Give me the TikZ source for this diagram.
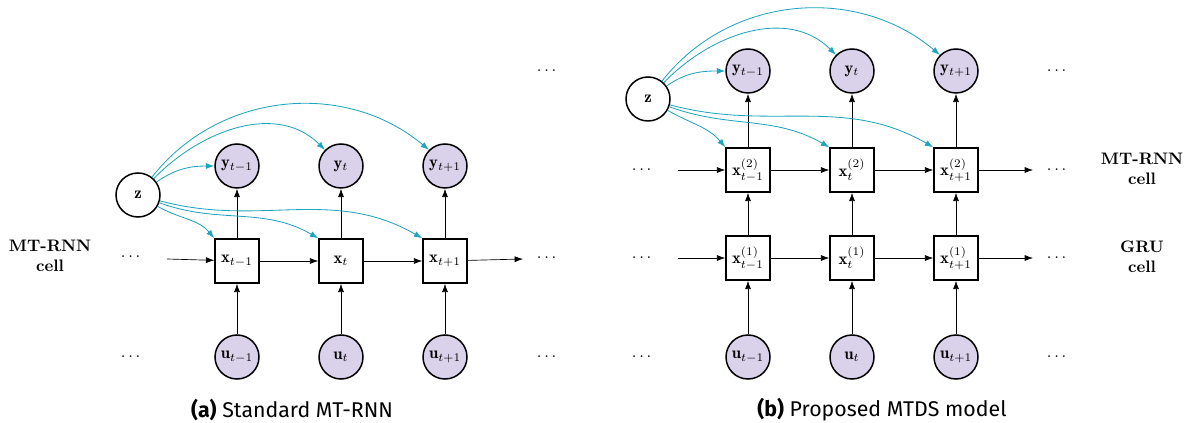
\documentclass[tikz,border=0pt]{standalone}
\usepackage{amsmath}
\usepackage{amssymb}
\usepackage{fontspec}
\newfontfamily\capfont{Fira Sans}
\usetikzlibrary{arrows.meta}
\definecolor{zlink}{RGB}{30,164,190}
\definecolor{obsfill}{RGB}{218,210,234}

\begin{document}
\begin{tikzpicture}[x=0.6pt, y=-0.6pt, >={Latex[length=5pt,width=3.6pt]},
        obs/.style={circle, draw, line width=0.9pt, fill=obsfill, minimum size=26.4pt, inner sep=0pt},
        lat/.style={circle, draw, line width=0.9pt, fill=white, minimum size=26.4pt, inner sep=0pt},
        cellbox/.style={rectangle, draw, line width=0.9pt, fill=white, minimum size=26.4pt, inner sep=0pt},
        zarr/.style={->, zlink, line width=0.5pt},
        dotsnode/.style={anchor=base, inner sep=0pt},
        rowlabel/.style={align=center, font=\bfseries, inner sep=0pt},
        caplabel/.style={font=\capfont\fontsize{12.8}{15}\selectfont, inner sep=0pt}]
        \useasboundingbox (0,0) rectangle (1189,423);
        % (a) standard MT-RNN
        \node[lat] (za) at (138,195) {$\mathbf{z}$};
        \foreach \i/\cx/\s in {1/237/t-1, 2/341/t, 3/445/t+1} {
            \node[obs] (ya\i) at (\cx,166) {$\mathbf{y}_{\s}$};
            \node[cellbox] (xa\i) at (\cx,261) {$\mathbf{x}_{\s}$};
            \node[obs] (ua\i) at (\cx,357) {$\mathbf{u}_{\s}$};
            \draw[->] (ua\i) -- (xa\i);
            \draw[->] (xa\i) -- (ya\i);
        }
        \coordinate (ina) at (167,259); \coordinate (outa) at (523,259);
        \draw[->] (ina) -- (xa1); \draw[->] (xa1) -- (xa2);
        \draw[->] (xa2) -- (xa3); \draw[->] (xa3) -- (outa);
        \draw[zarr] (za) to[out=35,in=180] (ya1.west);
        \draw[zarr] (za) to[out=46,in=135] (ya2.north west);
        \draw[zarr] (za) to[out=52,in=140] (ya3.north west);
        \draw[zarr] (za) to[out=-30,in=130] (xa1.north west);
        \draw[zarr] (za) to[out=-20,in=150] (xa2.north west);
        \draw[zarr] (za) to[out=-15,in=150] (xa3.north west);
        \foreach \n/\p in {da1/{132,258}, da2/{132,358}, da3/{548,72}, da4/{548,259}, da5/{548,358}}
            \node[dotsnode] (\n) at (\p) {$\dots$};
        \node[rowlabel] (rowa) at (50,256) {MT-RNN\\cell};
        \node[caplabel] (capa) at (292,410) {\textbf{(a)} Standard MT-RNN};
        % (b) proposed MTDS model
        \node[lat] (zb) at (648,99) {$\mathbf{z}$};
        \foreach \i/\cx/\s in {1/748/t-1, 2/852/t, 3/956/t+1} {
            \node[obs] (yb\i) at (\cx,71) {$\mathbf{y}_{\s}$};
            \node[cellbox] (hb\i) at (\cx,170) {$\mathbf{x}^{(2)}_{\s}$};
            \node[cellbox] (gb\i) at (\cx,258) {$\mathbf{x}^{(1)}_{\s}$};
            \node[obs] (ub\i) at (\cx,357) {$\mathbf{u}_{\s}$};
            \draw[->] (ub\i) -- (gb\i);
            \draw[->] (gb\i) -- (hb\i);
            \draw[->] (hb\i) -- (yb\i);
        }
        \coordinate (inh) at (678,170); \coordinate (outh) at (1033,170);
        \coordinate (ing) at (678,258); \coordinate (outg) at (1033,258);
        \draw[->] (inh) -- (hb1); \draw[->] (hb1) -- (hb2);
        \draw[->] (hb2) -- (hb3); \draw[->] (hb3) -- (outh);
        \draw[->] (ing) -- (gb1); \draw[->] (gb1) -- (gb2);
        \draw[->] (gb2) -- (gb3); \draw[->] (gb3) -- (outg);
        \draw[zarr] (zb) to[out=35,in=180] (yb1.west);
        \draw[zarr] (zb) to[out=46,in=135] (yb2.north west);
        \draw[zarr] (zb) to[out=52,in=140] (yb3.north west);
        \draw[zarr] (zb) to[out=-30,in=130] (hb1.north west);
        \draw[zarr] (zb) to[out=-20,in=150] (hb2.north west);
        \draw[zarr] (zb) to[out=-15,in=150] (hb3.north west);
        \foreach \n/\p in {db1/{643,171}, db2/{643,259}, db3/{643,358}, db4/{1058,72},
                db5/{1058,171}, db6/{1058,259}, db7/{1058,358}}
            \node[dotsnode] (\n) at (\p) {$\dots$};
        \node[rowlabel] (rowh) at (1142,169) {MT-RNN\\cell};
        \node[rowlabel] (rowg) at (1142,257) {GRU\\cell};
        \node[caplabel] (capb) at (882,410) {\textbf{(b)} Proposed MTDS model};
    \end{tikzpicture}
\end{document}
